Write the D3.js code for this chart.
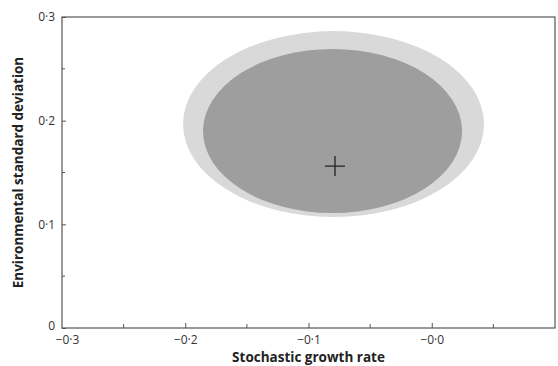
<!DOCTYPE html>
<html>
<head>
<meta charset="utf-8">
<script src="https://cdn.jsdelivr.net/npm/d3@7"></script>
<style>
  body { margin: 0; background: #fff; }
  text { font-family: "Open Sans", "Noto Sans", sans-serif; }
</style>
</head>
<body>
<div id="chart"></div>
<script>
// Region estimates (stochastic growth rate, environmental SD)
const regionNames = ['outer', 'inner'];
const regionCx = [-0.0797, -0.0805];
const regionCy = [0.1967, 0.190];
const regionRx = [0.1221, 0.1051];
const regionRy = [0.0897, 0.0791];
const regionFill = ['#d9d9d9', '#9e9e9e'];

// Point estimate
const pointX = [-0.0785];
const pointY = [0.1562];

const xTicks = [-0.3, -0.2, -0.1, 0.0];
const xTickLabels = ['\u22120\u00b73', '\u22120\u00b72', '\u22120\u00b71', '\u22120\u00b70'];
const xMinor = [-0.25, -0.15, -0.05, 0.05];
const yTicks = [0, 0.1, 0.2, 0.3];
const yTickLabels = ['0', '0\u00b71', '0\u00b72', '0\u00b73'];
const yMinor = [0.05, 0.15, 0.25];

const W = 558, H = 366;
const margin = { top: 17, right: 3, bottom: 38, left: 62 };
const width = W - margin.left - margin.right;
const height = H - margin.top - margin.bottom;

const svg = d3.select('#chart').append('svg')
  .attr('width', W).attr('height', H);

const g = svg.append('g')
  .attr('transform', `translate(${margin.left},${margin.top})`);

const x = d3.scaleLinear().domain([-0.3, 0.1]).range([0, width]);
const y = d3.scaleLinear().domain([0, 0.3]).range([height, 0]);

// ellipses
g.selectAll('ellipse.region').data(regionNames).join('ellipse')
  .attr('class', 'region')
  .attr('cx', (d, i) => x(regionCx[i]))
  .attr('cy', (d, i) => y(regionCy[i]))
  .attr('rx', (d, i) => x(regionCx[i] + regionRx[i]) - x(regionCx[i]))
  .attr('ry', (d, i) => y(regionCy[i]) - y(regionCy[i] + regionRy[i]))
  .attr('fill', (d, i) => regionFill[i]);

// plus marker
const plusSize = 10;
pointX.forEach((px, i) => {
  const cx = x(px), cy = y(pointY[i]);
  g.append('path')
    .attr('d', `M${cx - plusSize},${cy}H${cx + plusSize}M${cx},${cy - plusSize}V${cy + plusSize}`)
    .attr('stroke', '#222').attr('stroke-width', 1.3).attr('fill', 'none');
});

// frame
g.append('rect')
  .attr('width', width).attr('height', height)
  .attr('fill', 'none').attr('stroke', '#555').attr('stroke-width', 1.2);

// x axis (ticks inward)
const xAxis = g.append('g').attr('transform', `translate(0,${height})`);
xAxis.call(d3.axisBottom(x).tickValues(xTicks).tickSize(-5).tickPadding(7)
  .tickFormat((d, i) => xTickLabels[i]));
const firstTick = xAxis.selectAll('.tick').filter(d => d === xTicks[0]);
firstTick.select('line').remove();
firstTick.select('text').attr('dx', 5);
xAxis.append('g').selectAll('line').data(xMinor).join('line')
  .attr('x1', d => x(d)).attr('x2', d => x(d)).attr('y1', 0).attr('y2', -4)
  .attr('stroke', '#555');

// y axis
const yAxis = g.append('g');
yAxis.call(d3.axisLeft(y).tickValues(yTicks).tickSize(-4).tickPadding(7)
  .tickFormat((d, i) => yTickLabels[i]));
yAxis.selectAll('.tick').filter(d => d === 0).select('text').attr('dy', '0.1em');
yAxis.append('g').selectAll('line').data(yMinor).join('line')
  .attr('y1', d => y(d)).attr('y2', d => y(d)).attr('x1', 0).attr('x2', 3)
  .attr('stroke', '#555');

[xAxis, yAxis].forEach(a => {
  a.select('.domain').remove();
  a.selectAll('.tick line').attr('stroke', '#555');
  a.selectAll('.tick text').attr('font-size', 12).attr('fill', '#333')
    .attr('font-family', '"Open Sans", sans-serif');
});

// axis titles
svg.append('text')
  .attr('x', margin.left + x(-0.1)).attr('y', 362)
  .attr('text-anchor', 'middle')
  .attr('font-size', 13.5).attr('font-weight', 'bold').attr('fill', '#222')
  .text('Stochastic growth rate');

svg.append('text')
  .attr('transform', `translate(23,${margin.top + height / 2}) rotate(-90)`)
  .attr('text-anchor', 'middle')
  .attr('font-size', 13.5).attr('font-weight', 'bold').attr('fill', '#222')
  .text('Environmental standard deviation');
</script>
</body>
</html>
